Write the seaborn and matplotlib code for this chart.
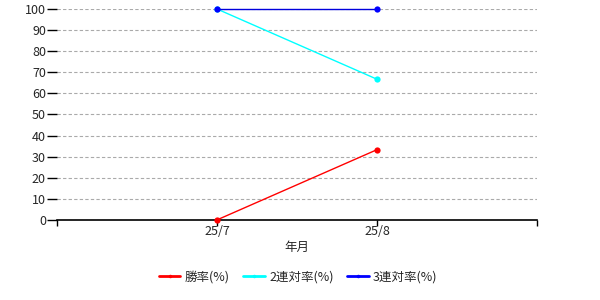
import matplotlib
matplotlib.use("Agg")
import matplotlib.pyplot as plt
import seaborn as sns
import pandas as pd

months = ["25/7", "25/8"]
win_rate = [0, 33.3]
top2_rate = [100, 66.7]
top3_rate = [100, 100]
series_names = ["勝率(%)", "2連対率(%)", "3連対率(%)"]
colors = ["#FF0000", "#00FFFF", "#0000DD"]
marker_colors = ["#FF0000", "#00FFFF", "#0000FF"]

sns.set_theme(style="white")
plt.rcParams['font.family'] = ['Noto Sans CJK JP', 'DejaVu Sans']

rows = []
for name, vals in zip(series_names, [win_rate, top2_rate, top3_rate]):
    for i, (m, v) in enumerate(zip(months, vals)):
        rows.append({"pos": i, "month": m, "value": v, "series": name})
df = pd.DataFrame(rows)

fig = plt.figure(figsize=(6, 3), dpi=100)
ax = fig.add_axes([0.095, 0.267, 0.8, 0.703])

sns.lineplot(data=df, x="pos", y="value", hue="series", palette=dict(zip(series_names, colors)),
             marker="o", markersize=4.5, linewidth=1, markeredgewidth=0, ax=ax, legend=False, zorder=5)
for line, mc in zip(ax.get_lines(), marker_colors):
    line.set_markerfacecolor(mc)
    line.set_clip_on(False)

ax.set_xlim(-1, 2)
ax.set_ylim(0, 100)
ax.set_xticks([-1, 0, 1, 2])
ax.set_xticklabels(["", months[0], months[1], ""])
ax.set_yticks(range(0, 101, 10))
ax.tick_params(axis="x", direction="out", length=4, width=1, color="black", labelsize=9, pad=0, bottom=True)
ax.tick_params(axis="y", direction="out", length=7, width=1, color="black", labelsize=9, pad=1, left=True)
ax.yaxis.grid(True, linestyle=(0, (3, 2)), color="#AAAAAA", linewidth=0.8)
ax.xaxis.grid(False)
for s in ["left", "right", "top"]:
    ax.spines[s].set_visible(False)
ax.spines["bottom"].set_color("black")
ax.spines["bottom"].set_linewidth(1.2)
ax.spines["bottom"].set_zorder(2.5)
ax.set_xlabel("年月", fontsize=9, labelpad=2)
ax.set_ylabel("")

from matplotlib.lines import Line2D
handles = [Line2D([0], [0], color=c, lw=2, marker="o", markersize=2.5, markerfacecolor=mc, markeredgewidth=0)
           for c, mc in zip(["#FF0000", "#00FFFF", "#0000FF"], marker_colors)]
fig.legend(handles, series_names, loc="center", bbox_to_anchor=(0.497, 0.077), ncol=3, frameon=False,
           fontsize=9, handlelength=1.7, handletextpad=0.35, columnspacing=1.1)

fig.savefig("out.png", dpi=100)
